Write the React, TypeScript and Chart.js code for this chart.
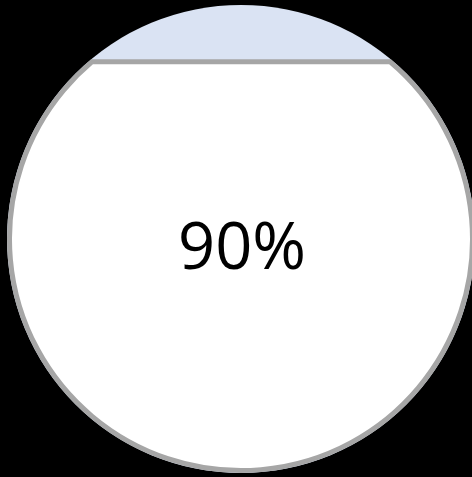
import React, { useEffect, useRef } from "react";
import { Chart, registerables } from "chart.js";

Chart.register(...registerables);

const categories: string[] = ["Progress"];
const values: number[] = [90];
const scaleMin = 0;
const scaleMax = 100;

const CX = 241;
const CY = 239;
const OUTER_R = 234;
const BORDER_W = 5;
const INNER_R = OUTER_R - BORDER_W / 2;

const liquidPlugin = {
  id: "liquidGauge",
  beforeDraw(chart: any) {
    const ctx = chart.ctx;
    ctx.save();
    ctx.fillStyle = "#000000";
    ctx.fillRect(0, 0, chart.width, chart.height);
    ctx.beginPath();
    ctx.arc(CX, CY, OUTER_R, 0, Math.PI * 2);
    ctx.fillStyle = "#dae3f3";
    ctx.fill();
    ctx.restore();
  },
  beforeDatasetsDraw(chart: any) {
    const ctx = chart.ctx;
    ctx.save();
    ctx.beginPath();
    ctx.arc(CX, CY, INNER_R, 0, Math.PI * 2);
    ctx.clip();
  },
  afterDatasetsDraw(chart: any) {
    const ctx = chart.ctx;
    ctx.restore();
    const meta = chart.getDatasetMeta(0);
    const bar = meta.data[0];
    if (!bar) return;
    const level = bar.y;
    const dy = level - CY;
    ctx.save();
    ctx.beginPath();
    if (Math.abs(dy) < INNER_R) {
      const a = Math.asin(dy / INNER_R);
      ctx.arc(CX, CY, INNER_R, a, Math.PI - a, false);
      ctx.closePath();
    } else {
      ctx.arc(CX, CY, INNER_R, 0, Math.PI * 2);
    }
    ctx.lineWidth = BORDER_W;
    ctx.strokeStyle = "#a6a6a6";
    ctx.lineJoin = "miter";
    ctx.stroke();
    ctx.restore();
  },
  afterDraw(chart: any) {
    const ctx = chart.ctx;
    ctx.save();
    ctx.fillStyle = "#000000";
    ctx.font = '65px "Open Sans", "Noto Sans", sans-serif';
    ctx.textAlign = "center";
    ctx.textBaseline = "middle";
    ctx.fillText(`${values[0]}%`, 242, 250);
    ctx.restore();
  },
};

export default function App() {
  const canvasRef = useRef<HTMLCanvasElement | null>(null);

  useEffect(() => {
    document.body.style.margin = "0";
    document.body.style.background = "#000000";
    const canvas = canvasRef.current;
    if (!canvas) return;
    const chart = new Chart(canvas, {
      type: "bar",
      data: {
        labels: categories,
        datasets: [
          {
            data: values,
            backgroundColor: "#ffffff",
            borderWidth: 0,
            barPercentage: 1,
            categoryPercentage: 1,
          },
        ],
      },
      options: {
        animation: false,
        responsive: false,
        maintainAspectRatio: false,
        devicePixelRatio: 1,
        layout: { padding: { top: 16, bottom: 4, left: 0, right: 0 } },
        plugins: { legend: { display: false }, tooltip: { enabled: false } },
        scales: {
          x: { display: false },
          y: { display: false, min: scaleMin, max: scaleMax },
        },
      },
      plugins: [liquidPlugin],
    });
    return () => chart.destroy();
  }, []);

  return (
    <div style={{ position: "fixed", left: 0, top: 0, width: 472, height: 477, background: "#000" }}>
      <canvas ref={canvasRef} width={472} height={477} style={{ display: "block", width: 472, height: 477 }} />
    </div>
  );
}
